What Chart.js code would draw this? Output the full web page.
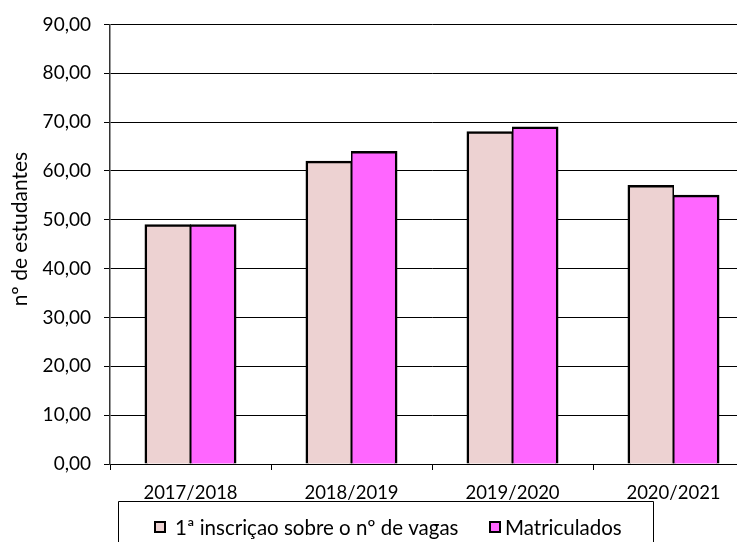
<!DOCTYPE html>
<html>
<head>
<meta charset="utf-8">
<script src="https://cdn.jsdelivr.net/npm/chart.js@4/dist/chart.umd.min.js"></script>
<style>
  html, body { margin: 0; padding: 0; background: #fff; overflow: hidden; }
  #wrap { width: 737px; height: 542px; position: relative; overflow: hidden; }
</style>
</head>
<body>
<div id="wrap"><canvas id="barChart" width="760" height="542"></canvas></div>
<script>
const years = ['2017/2018', '2018/2019', '2019/2020', '2020/2021'];
const inscricao = [49, 62, 68, 57];
const matriculados = [49, 64, 69, 55];
const yTicks = [0, 10, 20, 30, 40, 50, 60, 70, 80, 90];
const yTitle = 'nº de estudantes';

const FONT = 'Lato, "Open Sans", sans-serif';
const fmt = v => v.toFixed(2).replace('.', ',');

// legend frame + axis title drawn by hand, the original sits them off-centre
const extras = {
  id: 'extras',
  afterDraw(chart) {
    const ctx = chart.ctx;
    const ds = chart.data.datasets;
    ctx.save();

    // open-bottom legend frame (cut by the picture edge)
    ctx.strokeStyle = '#000';
    ctx.lineWidth = 1;
    ctx.beginPath();
    ctx.moveTo(118.5, 560);
    ctx.lineTo(118.5, 501.5);
    ctx.lineTo(653.5, 501.5);
    ctx.lineTo(653.5, 560);
    ctx.stroke();

    ctx.font = '20.5px ' + FONT;
    ctx.textBaseline = 'middle';
    const xs = [155, 490];
    const y = 527;
    ds.forEach((d, i) => {
      const x = xs[i];
      ctx.fillStyle = d.backgroundColor;
      ctx.fillRect(x, y - 5, 10, 10);
      ctx.lineWidth = 2;
      ctx.strokeStyle = '#000';
      ctx.strokeRect(x, y - 5, 10, 10);
      ctx.fillStyle = '#000';
      ctx.fillText(d.label, x + (i === 0 ? 20 : 15), y + 1);
    });

    // y axis title
    ctx.translate(20, 229);
    ctx.rotate(-Math.PI / 2);
    ctx.textAlign = 'center';
    ctx.textBaseline = 'middle';
    ctx.fillStyle = '#000';
    ctx.font = '21px ' + FONT;
    ctx.fillText(yTitle, 0, 0);
    ctx.restore();
  }
};

new Chart(document.getElementById('barChart'), {
  type: 'bar',
  data: {
    labels: years,
    datasets: [{
      label: '1ª inscriçao sobre o nº de vagas',
      data: inscricao,
      backgroundColor: '#EDD2D2',
      borderColor: '#000',
      borderWidth: { top: 2.5, left: 2.5, right: 1.5, bottom: 0 },
      inflateAmount: 0.5
    }, {
      label: 'Matriculados',
      data: matriculados,
      backgroundColor: '#FF66FF',
      borderColor: '#000',
      borderWidth: { top: 2.5, left: 1.5, right: 2.5, bottom: 0 },
      inflateAmount: 0.5
    }]
  },
  options: {
    responsive: false,
    animation: false,
    layout: { padding: { top: 21, right: 6, left: 0, bottom: 0 } },
    datasets: { bar: { categoryPercentage: 0.565, barPercentage: 1 } },
    plugins: { legend: { display: false }, tooltip: { enabled: false } },
    scales: {
      x: {
        afterFit: s => { s.height = 78; },
        grid: { offset: true, drawOnChartArea: false, drawTicks: true, tickLength: 6, color: '#000' },
        border: { color: '#000', width: 1 },
        ticks: { color: '#000', font: { family: FONT, size: 18.5 }, padding: 12 }
      },
      y: {
        min: 0,
        max: 90,
        afterFit: s => { s.width = 110; },
        afterBuildTicks: s => { s.ticks = yTicks.map(v => ({ value: v })); },
        grid: { color: '#000', tickLength: 6 },
        border: { color: '#333', width: 1.5 },
        ticks: { color: '#000', font: { family: FONT, size: 19 }, padding: 13, callback: v => fmt(v) }
      }
    }
  },
  plugins: [extras]
});
</script>
</body>
</html>
